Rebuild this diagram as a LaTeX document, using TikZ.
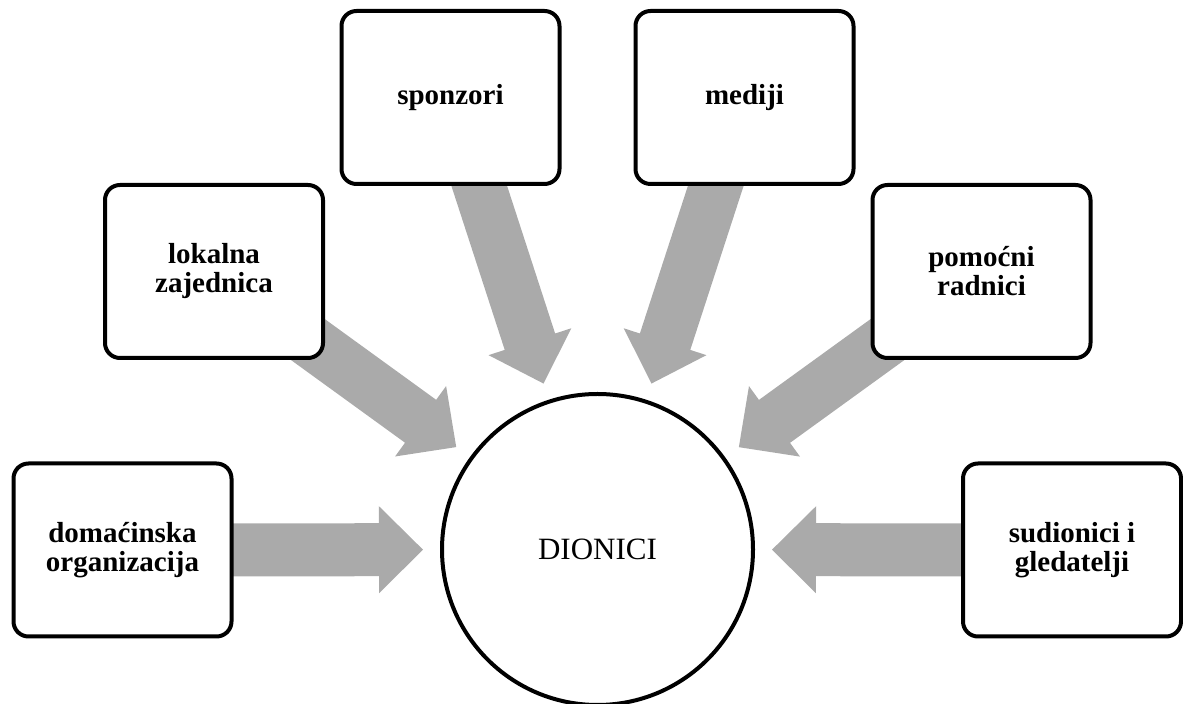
\documentclass[tikz,border=0pt]{standalone}
\usepackage{fontspec}
\setmainfont{Liberation Serif}
\usetikzlibrary{calc,backgrounds}
\definecolor{arrowgray}{RGB}{170,170,170}
\tikzset{
  party/.style={draw, line width=2pt, rounded corners=7.5pt, fill=white,
    minimum width=109pt, minimum height=86.5pt, align=center,
    font=\fontsize{14.5}{14.5}\selectfont\bfseries},
  hub/.style={draw, circle, line width=2pt, fill=white, minimum size=155.5pt,
    font=\fontsize{15.5}{15.5}\selectfont},
  feed/.style={fill=arrowgray}
}
% wide grey arrow from a box towards the circle
\newcommand\feedarrow[1]{%
  \fill[feed] ($(dion)!87.25pt!(#1)$)
    -- ($(dion)!109.25pt!(#1)!21.75pt!90:(#1)$)
    -- ($(dion)!109.25pt!(#1)!13.25pt!90:(#1)$)
    -- ($(#1)!13.25pt!-90:(dion)$)
    -- ($(#1)!13.25pt!90:(dion)$)
    -- ($(dion)!109.25pt!(#1)!13.25pt!-90:(#1)$)
    -- ($(dion)!109.25pt!(#1)!21.75pt!-90:(#1)$)
    -- cycle;}
\begin{document}
\begin{tikzpicture}[x=0.5pt, y=0.5pt]
  \useasboundingbox (0,0) rectangle (1183,-704);

  \node[hub] (dion) at (597.5,-549.5) {DIONICI};

  \node[party] (dom) at (122.5,-550) {doma\'cinska\\organizacija};
  \node[party] (lok) at (214,-271.5) {lokalna\\zajednica};
  \node[party] (spo) at (450.5,-97.5) {sponzori};
  \node[party] (med) at (744.5,-97.5) {mediji};
  \node[party] (pom) at (981.5,-271.5) {pomo\'cni\\radnici};
  \node[party] (sud) at (1072,-550) {sudionici i\\gledatelji};

  \begin{scope}[on background layer]
    \foreach \p in {dom,lok,spo,med,pom,sud} {\feedarrow{\p}}
  \end{scope}
\end{tikzpicture}
\end{document}
